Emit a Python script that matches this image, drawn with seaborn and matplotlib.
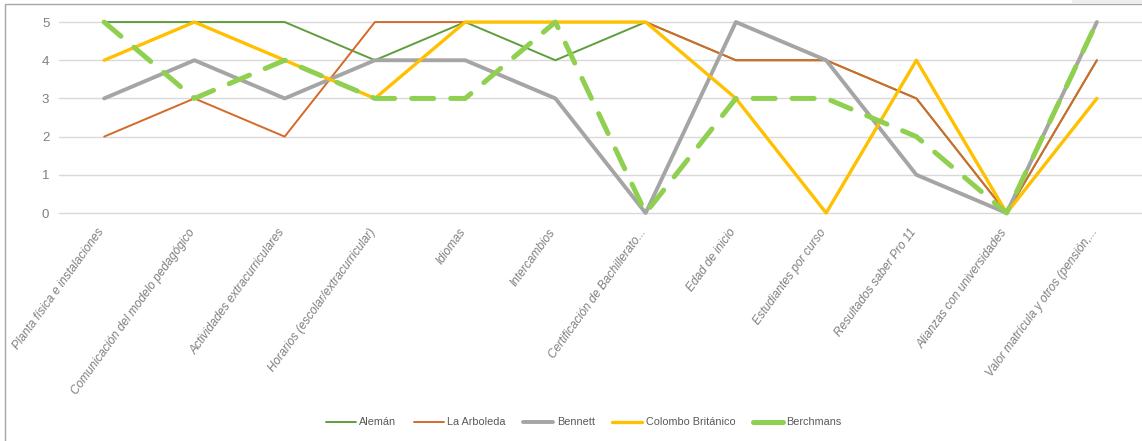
import matplotlib
matplotlib.use("Agg")
import matplotlib.pyplot as plt
import matplotlib.transforms as mtransforms
import seaborn as sns
import numpy as np
import pandas as pd
from matplotlib.patches import Rectangle

categories = [
    "Planta física e instalaciones",
    "Comunicación del modelo pedagógico",
    "Actividades extracurriculares",
    "Horarios (escolar/extracurricular)",
    "Idiomas",
    "Intercambios",
    "Certificación de Bachillerato...",
    "Edad de inicio",
    "Estudiantes por curso",
    "Resultados saber Pro 11",
    "Alianzas con universidades",
    "Valor matrícula y otros (pensión,...",
]

aleman = [5, 5, 5, 4, 5, 4, 5, 4, 4, 3, 0, 4]
arboleda = [2, 3, 2, 5, 5, 5, 5, 4, 4, 3, 0, 4]
bennett = [3, 4, 3, 4, 4, 3, 0, 5, 4, 1, 0, 5]
colombo = [4, 5, 4, 3, 5, 5, 5, 3, 0, 4, 0, 3]
berchmans = [5, 3, 4, 3, 3, 5, 0, 3, 3, 2, 0, 5]

series_names = ["Alemán", "La Arboleda", "Bennett", "Colombo Británico", "Berchmans"]
series_values = [aleman, arboleda, bennett, colombo, berchmans]

colors = ["#5f9e3c", "#d4692a", "#a5a5a5", "#ffc000", "#8fd050"]
widths = [1.4, 1.4, 2.8, 2.4, 3.6]

sns.set_theme(style="white")
plt.rcParams["font.family"] = ["Liberation Sans Narrow", "Liberation Sans", "DejaVu Sans"]

fig = plt.figure(figsize=(11.42, 4.41), dpi=100)
ax = fig.add_axes([0.0517, 0.517, 0.9483, 0.433])

x = np.arange(len(categories))
for name, vals, c, lw in zip(series_names, series_values, colors, widths):
    df = pd.DataFrame({"x": x, "y": vals})
    sns.lineplot(data=df, x="x", y="y", ax=ax, color=c, linewidth=lw,
                 label=name, sort=False)

# dashed style for Berchmans
berch_line = ax.get_lines()[-1]
berch_line.set_dashes((4.4, 3.4))
berch_line.set_dash_capstyle("round")

ax.set_xlim(-0.5, len(categories) - 0.5)
ax.set_ylim(0, 5)
ax.set_yticks(range(6))
ax.set_xticks(x)
ax.set_xticklabels([])

# rotated category labels, right end placed just below each category
offset = mtransforms.ScaledTranslation(-2 / 100, -17 / 100, fig.dpi_scale_trans)
for xi, cat in zip(x, categories):
    ax.text(xi, 0, cat, transform=ax.get_xaxis_transform() + offset,
            rotation=54, ha="right", va="center", rotation_mode="anchor",
            fontsize=8.6, color="#7f7f7f", style="italic")

ax.tick_params(axis="y", labelsize=9.5, labelcolor="#7f7f7f", pad=7, length=0)
ax.tick_params(axis="x", length=0)
ax.set_xlabel("")
ax.set_ylabel("")
ax.grid(axis="y", color="#d9d9d9", linewidth=1)
ax.grid(axis="x", visible=False)
for gl in ax.get_ygridlines():
    gl.set_clip_on(False)
for ln in ax.get_lines():
    ln.set_clip_on(False)
for s in ax.spines.values():
    s.set_visible(False)
ax.set_axisbelow(True)

handles, labels = ax.get_legend_handles_labels()
ax.get_legend().remove()
leg = fig.legend(handles, labels, loc="center", bbox_to_anchor=(0.511, 0.042),
                 ncol=5, frameon=False, fontsize=7.8, handlelength=2.8,
                 columnspacing=1.6, handletextpad=0.3)
for t in leg.get_texts():
    t.set_color("#595959")
for lh, lw in zip(leg.get_lines(), widths):
    lh.set_linestyle("-")
    lh.set_linewidth(lw)

# chart frame
fig.patches.append(Rectangle((5 / 1142, -0.05), 1.1, (441 - 4) / 441 + 0.05,
                             transform=fig.transFigure, fill=False,
                             edgecolor="#a6a6a6", linewidth=1.0))
fig.patches.append(Rectangle((1072 / 1142, 1 - 3 / 441), 70 / 1142, 3 / 441,
                             transform=fig.transFigure, facecolor="#eeeeee",
                             edgecolor="none"))

fig.savefig("out.png", dpi=100)
